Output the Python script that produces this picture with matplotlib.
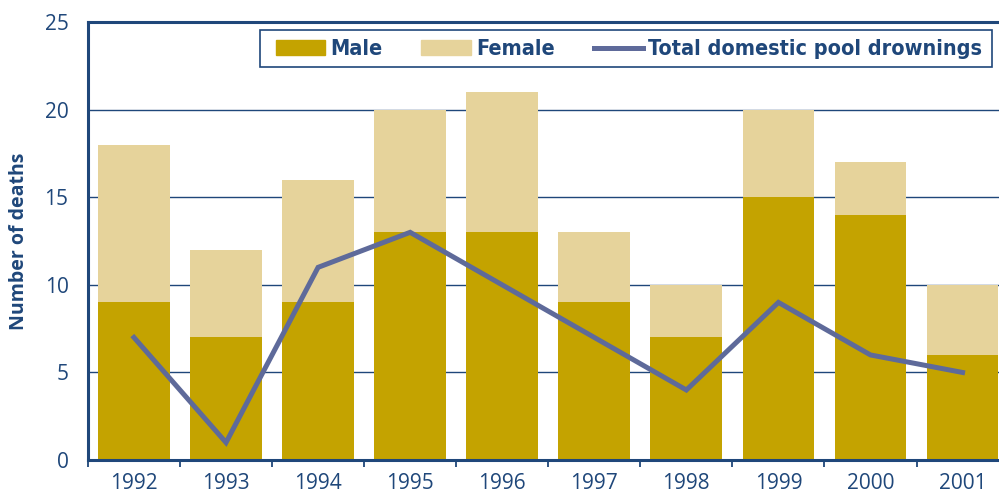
import matplotlib
matplotlib.use("Agg")
import matplotlib.pyplot as plt
import numpy as np
from matplotlib import font_manager
from matplotlib.patches import Patch, Rectangle
from matplotlib.lines import Line2D

years = ["1992", "1993", "1994", "1995", "1996", "1997", "1998", "1999", "2000", "2001"]
male = [9, 7, 9, 13, 13, 9, 7, 15, 14, 6]
female = [9, 5, 7, 7, 8, 4, 3, 5, 3, 4]
total_pool = [7, 1, 11, 13, 10, 7, 4, 9, 6, 5]

navy = "#1F477A"
male_col = "#C4A300"
female_col = "#E6D39B"
line_col = "#5E6A9A"

plt.rcParams["font.family"] = ["Open Sans", "DejaVu Sans"]

# narrow bold font for the legend, if one is around
names = {f.name for f in font_manager.fontManager.ttflist}
cond = [f for f in font_manager.fontManager.ttflist
        if f.name == "DejaVu Sans" and "ondensed" in f.fname and "Bold" in f.fname]
if "Liberation Sans Narrow" in names:
    leg_prop = {"family": "Liberation Sans Narrow", "weight": "bold", "size": 17}
elif cond:
    leg_prop = font_manager.FontProperties(fname=cond[0].fname, size=15.5)
else:
    leg_prop = {"family": "Roboto", "weight": "bold", "size": 14}

fig = plt.figure(figsize=(9.99, 4.91), dpi=100)
ax = fig.add_axes([0.088, 0.063, 0.917, 0.892])

x = np.arange(len(years))
ax.bar(x, male, width=0.78, color=male_col, zorder=2)
ax.bar(x, female, width=0.78, bottom=male, color=female_col, zorder=2)
ax.plot(x, total_pool, color=line_col, lw=3.6, zorder=3, solid_joinstyle="miter")

ax.set_xlim(-0.5, 9.45)
ax.set_ylim(0, 25)
ax.set_yticks([0, 5, 10, 15, 20, 25])
ax.yaxis.grid(True, color=navy, lw=1.0, zorder=1)
ax.set_axisbelow(True)

ax.set_xticks(x)
ax.set_xticklabels(years)
ax.set_xticks(np.arange(-0.5, 9.5, 1), minor=True)
ax.tick_params(axis="x", which="major", length=0, pad=9, labelsize=15, labelcolor=navy)
ax.tick_params(axis="x", which="minor", length=5, width=1.3, color=navy)
ax.tick_params(axis="y", length=0, pad=14, labelsize=15, labelcolor=navy)

for s in ["left", "bottom", "top"]:
    ax.spines[s].set_color(navy)
    ax.spines[s].set_linewidth(2.2)
ax.spines["right"].set_visible(False)

ax.set_ylabel("Number of deaths", fontsize=14, fontweight="bold", color=navy)
ax.yaxis.set_label_coords(-0.064, 0.5)

# legend frame drawn separately so the padding matches
fig.patches.append(Rectangle((260 / 999, 1 - 67 / 491), 732 / 999, 37 / 491,
                             transform=fig.transFigure, facecolor="white",
                             edgecolor=navy, lw=1.2, zorder=5))

handles = [Patch(color=male_col, label="Male"),
           Patch(color=female_col, label="Female"),
           Line2D([0], [0], color=line_col, lw=3.6, label="Total domestic pool drownings")]
leg = fig.legend(handles=handles, loc="center", bbox_to_anchor=(629 / 999, 1 - 49 / 491), ncol=3,
                 frameon=False, prop=leg_prop,
                 handlelength=2.3, handleheight=0.66, columnspacing=1.8, handletextpad=0.25,
                 borderpad=0, borderaxespad=0)
leg.set_zorder(6)
for t in leg.get_texts():
    t.set_color(navy)

fig.savefig("out.png", dpi=100)
